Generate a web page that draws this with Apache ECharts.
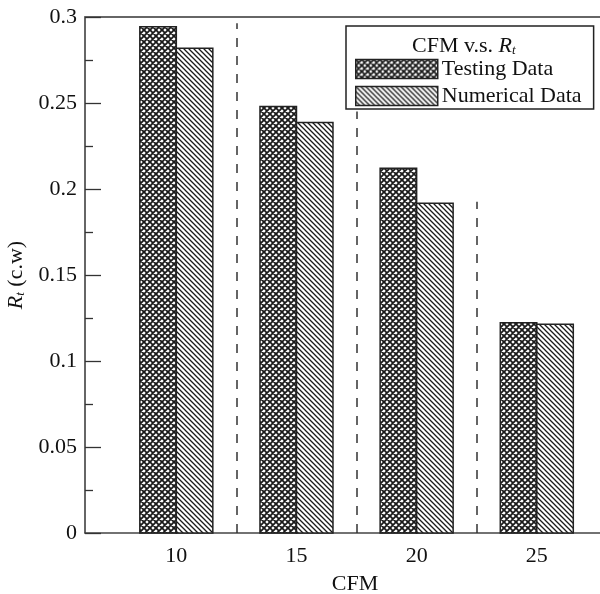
<!DOCTYPE html>
<html>
<head>
<meta charset="utf-8">
<script src="https://cdn.jsdelivr.net/npm/echarts@6/dist/echarts.min.js"></script>
<style>
html,body{margin:0;padding:0;background:#fff;}
#main{width:600px;height:594px;}
</style>
</head>
<body>
<div id="main"></div>
<script>
// data
var cfm = [10, 15, 20, 25];
var testingData = [0.2944, 0.2479, 0.2120, 0.1223];
var numericalData = [0.2818, 0.2386, 0.1917, 0.1213];
var dividerX = [12.5, 17.5, 22.5];
var dividerTop = [0.2963, 0.245, 0.1926];
var yTicks = [0, 0.05, 0.1, 0.15, 0.2, 0.25, 0.3];

var FONT = '"Liberation Serif","Times New Roman",serif';
var FS = 22;
var BAR_W = 36.5;

// hatch tiles
function makeTile(size, dirs, lw){
    var c = document.createElement('canvas');
    c.width = size; c.height = size;
    var ctx = c.getContext('2d');
    ctx.fillStyle = '#fff';
    ctx.fillRect(0,0,size,size);
    ctx.strokeStyle = '#1a1a1a';
    ctx.lineWidth = lw;
    ctx.beginPath();
    if(dirs.indexOf('\\')>=0){
        ctx.moveTo(-1,-1); ctx.lineTo(size+1,size+1);
        ctx.moveTo(size-1,-1); ctx.lineTo(size+1,1);
        ctx.moveTo(-1,size-1); ctx.lineTo(1,size+1);
    }
    if(dirs.indexOf('/')>=0){
        ctx.moveTo(-1,size+1); ctx.lineTo(size+1,-1);
        ctx.moveTo(-1,1); ctx.lineTo(1,-1);
        ctx.moveTo(size-1,size+1); ctx.lineTo(size+1,size-1);
    }
    ctx.stroke();
    return c;
}
var crossFill = {image: makeTile(6, '\\/', 1.8), repeat: 'repeat'};
var hatchFill = {image: makeTile(5, '\\', 1.3), repeat: 'repeat'};

function pairs(xs, ys){
    var out = [];
    for(var a=0;a<xs.length;a++) out.push([xs[a], ys[a]]);
    return out;
}
var dividerLines = [];
for(var a=0;a<dividerX.length;a++){
    dividerLines.push([{coord:[dividerX[a],0]},{coord:[dividerX[a],dividerTop[a]]}]);
}

// side: -1 bar sits left of the category value, +1 right of it
function barRenderer(side, fill){
    return function(params, api){
        var top = api.coord([api.value(0), api.value(1)]);
        var base = api.coord([api.value(0), 0]);
        var x0 = side < 0 ? top[0]-BAR_W : top[0];
        var rect = echarts.graphic.clipRectByRect({
            x:x0, y:top[1], width:BAR_W, height:base[1]-top[1]
        },{
            x:params.coordSys.x, y:params.coordSys.y,
            width:params.coordSys.width+2, height:params.coordSys.height
        });
        return rect && {
            type:'rect',
            shape:rect,
            style:{fill:fill, stroke:'#222', lineWidth:1.5}
        };
    };
}

var chart = echarts.init(document.getElementById('main'));
var option = {
    animation:false,
    textStyle:{fontFamily:FONT},
    title:{
        text:'{a|CFM v.s. }{b|R}{c|t}',
        left:407, top:30,
        textStyle:{
            rich:{
                a:{fontFamily:FONT,fontSize:FS,fontWeight:'normal',color:'#111'},
                b:{fontFamily:FONT,fontSize:FS,fontWeight:'normal',fontStyle:'italic',color:'#111'},
                c:{fontFamily:FONT,fontSize:13,fontWeight:'normal',fontStyle:'italic',color:'#111',verticalAlign:'bottom',padding:[6,0,0,0]}
            }
        }
    },
    legend:{
        left:346, top:26,
        orient:'vertical',
        padding:[32,12,2,9],
        itemGap:5,
        itemWidth:82, itemHeight:19,
        borderColor:'#222', borderWidth:1.5,
        icon:'rect',
        itemStyle:{borderColor:'#222',borderWidth:1.5},
        textStyle:{fontFamily:FONT,fontSize:FS,color:'#111',padding:[0,0,0,-1]},
        data:['Testing Data','Numerical Data']
    },
    grid:{left:85, top:17, right:0, height:516, outerBoundsMode:'none', containLabel:false},
    xAxis:[{
        type:'value',
        min:6.2, max:27.63,
        name:'CFM',
        nameLocation:'middle',
        nameGap:40,
        nameTextStyle:{fontFamily:FONT,fontSize:FS,color:'#111',padding:[0,0,0,25]},
        axisLine:{lineStyle:{color:'#444',width:1.5}},
        axisTick:{show:false},
        splitLine:{show:false},
        axisLabel:{
            customValues:cfm,
            margin:12,
            fontFamily:FONT,fontSize:FS,color:'#111'
        }
    },{
        type:'value',
        position:'top',
        min:6.2, max:27.63,
        axisLine:{show:true,lineStyle:{color:'#666',width:2}},
        axisTick:{show:false},
        axisLabel:{show:false},
        splitLine:{show:false}
    }],
    yAxis:{
        type:'value',
        min:0, max:0.3, interval:0.05,
        name:'{r|R}{s|t}{n| (c.w)}',
        nameLocation:'middle',
        nameRotate:90,
        nameGap:58,
        nameTextStyle:{
            rich:{
                r:{fontFamily:FONT,fontSize:FS,fontStyle:'italic',color:'#111'},
                s:{fontFamily:FONT,fontSize:13,fontStyle:'italic',color:'#111',verticalAlign:'bottom',padding:[6,0,0,0]},
                n:{fontFamily:FONT,fontSize:FS,color:'#111'}
            }
        },
        axisLine:{show:true,lineStyle:{color:'#333',width:1.5}},
        axisTick:{show:true,inside:true,length:16,lineStyle:{color:'#333',width:1.3}},
        minorTick:{show:true,splitNumber:2,length:8,lineStyle:{color:'#333',width:1.3}},
        splitLine:{show:false},
        axisLabel:{
            customValues:yTicks,
            margin:8,
            fontFamily:FONT,fontSize:FS,color:'#111'
        }
    },
    series:[{
        name:'Testing Data',
        type:'custom',
        renderItem:barRenderer(-1, crossFill),
        encode:{x:0,y:1},
        clip:false,
        data:pairs(cfm, testingData),
        itemStyle:{color:crossFill,borderColor:'#222',borderWidth:1.5},
        markLine:{
            silent:true,
            symbol:['none','none'],
            label:{show:false},
            lineStyle:{color:'#333',width:1.5,type:[9,9]},
            data:dividerLines
        }
    },{
        name:'Numerical Data',
        type:'custom',
        renderItem:barRenderer(1, hatchFill),
        encode:{x:0,y:1},
        clip:false,
        data:pairs(cfm, numericalData),
        itemStyle:{color:hatchFill,borderColor:'#222',borderWidth:1.5}
    }]
};
chart.setOption(option);
</script>
</body>
</html>
